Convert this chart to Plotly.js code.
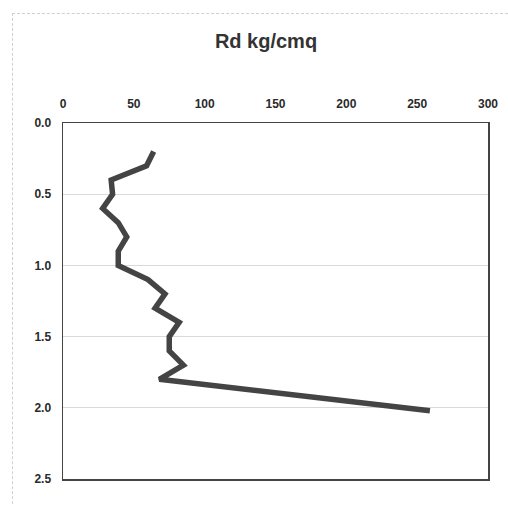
<!DOCTYPE html>
<html>
<head>
<meta charset="utf-8">
<script src="https://cdn.plot.ly/plotly-3.0.1.min.js"></script>
<style>
  html, body { margin: 0; padding: 0; background: #fff; }
  #frame { position: absolute; left: 12px; top: 13px; width: 520px; height: 520px; border-left: 1px dashed #d0d0d0; border-top: 1px dashed #d0d0d0; }
  #chart { position: absolute; left: 0; top: 0; width: 508px; height: 506px; }
</style>
</head>
<body>
<div id="frame"></div>
<div id="chart"></div>
<script>
// Depth (m) and Rd (kg/cmq) values
const depth = [0.2, 0.3, 0.4, 0.5, 0.6, 0.7, 0.8, 0.9, 1.0, 1.1, 1.2, 1.3, 1.4, 1.5, 1.6, 1.7, 1.8, 2.02];
const rd    = [64, 59, 34, 35, 28, 39, 45, 39, 39, 60, 72, 65, 82, 75, 75, 85, 68, 259];
const xTicks = [0, 50, 100, 150, 200, 250, 300];
const yTicks = [0.0, 0.5, 1.0, 1.5, 2.0, 2.5];
const titleText = 'Rd kg/cmq';

const fontFam = 'Arial, "Liberation Sans", sans-serif';

Plotly.newPlot('chart', [{
  x: rd,
  y: depth,
  type: 'scatter',
  mode: 'lines',
  line: { color: '#444444', width: 5.5 },
  hoverinfo: 'skip'
}], {
  width: 508,
  height: 506,
  margin: { l: 63, r: 20, t: 123, b: 27 },
  paper_bgcolor: 'rgba(0,0,0,0)',
  plot_bgcolor: '#ffffff',
  showlegend: false,
  title: {
    text: titleText,
    font: { family: fontFam, size: 20, color: '#333', weight: 'bold' },
    x: 266 / 508, xanchor: 'center',
    y: 1 - 41 / 506, yanchor: 'middle', yref: 'container'
  },
  xaxis: {
    side: 'top',
    range: [0, 300],
    tickvals: xTicks,
    ticktext: xTicks.map(String),
    showgrid: false,
    zeroline: false,
    showline: true, mirror: true,
    linecolor: '#444', linewidth: 1.5,
    ticks: '',
    ticklabelstandoff: 9,
    tickfont: { family: fontFam, size: 12, color: '#2a2a2a', weight: 'bold' }
  },
  yaxis: {
    range: [2.5, 0],
    tickvals: yTicks,
    ticktext: yTicks.map(v => v.toFixed(1)),
    showgrid: true,
    gridcolor: '#d9d9d9', gridwidth: 1,
    zeroline: false,
    showline: true, mirror: true,
    linecolor: '#444', linewidth: 1.5,
    ticks: '',
    ticklabelstandoff: 8,
    tickfont: { family: fontFam, size: 12, color: '#2a2a2a', weight: 'bold' }
  }
}, { staticPlot: true });
</script>
</body>
</html>
